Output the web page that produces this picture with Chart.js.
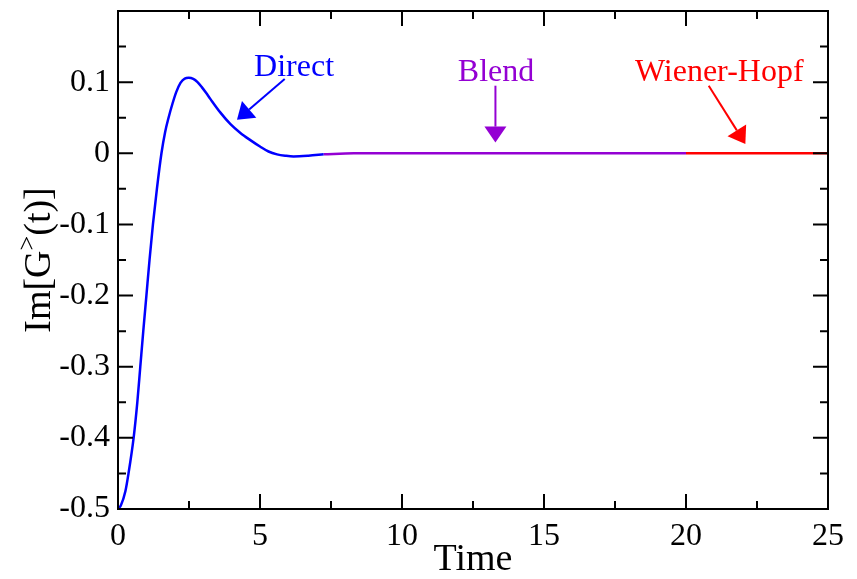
<!DOCTYPE html>
<html>
<head>
<meta charset="utf-8">
<script src="https://cdn.jsdelivr.net/npm/chart.js@4/dist/chart.umd.min.js"></script>
<style>
  html, body { margin: 0; padding: 0; background: #fff; }
</style>
</head>
<body>
<canvas id="chart" width="857" height="579"></canvas>
<script>
// Values
const directTime  = [0, 0.1, 0.26, 0.37, 0.55, 0.68, 0.785, 0.89, 1.0, 1.11, 1.23, 1.37, 1.53, 1.66, 1.78, 1.92, 2.05, 2.2, 2.35, 2.49, 2.65, 2.8, 2.95, 3.1, 3.25, 3.6, 3.96, 4.3, 4.66, 5.0, 5.3, 5.6, 5.9, 6.18, 6.7, 7.24];
const directValue = [-0.5, -0.495, -0.475, -0.45, -0.4, -0.35, -0.3, -0.25, -0.2, -0.15, -0.1, -0.05, 0, 0.03, 0.05, 0.07, 0.086, 0.099, 0.105, 0.106, 0.1045, 0.1, 0.093, 0.085, 0.0765, 0.0575, 0.041, 0.029, 0.0185, 0.0095, 0.0025, -0.0015, -0.0035, -0.0045, -0.0035, -0.0015];
const blendTime   = [7.24, 8.3, 10, 12, 14, 16, 18, 20];
const blendValue  = [-0.0015, 0, 0, 0, 0, 0, 0, 0];
const whTime      = [20, 22.5, 25];
const whValue     = [0, 0, 0];

const xMajorTicks = [0, 5, 10, 15, 20, 25];
const xMinorTicks = [2.5, 7.5, 12.5, 17.5, 22.5];
const yMajorTicks = [-0.5, -0.4, -0.3, -0.2, -0.1, 0, 0.1, 0.2];
const yMinorTicks = [-0.45, -0.35, -0.25, -0.15, -0.05, 0.05, 0.15];

// annotation: label, text anchor (time, value), arrow start, arrow tip
const noteLabels = ['Direct', 'Blend', 'Wiener-Hopf'];
const noteText   = [[6.2, 0.109], [13.31, 0.101], [21.17, 0.101]];
const noteFrom   = [[5.87, 0.1045], [13.29, 0.095], [20.8, 0.095]];
const noteTip    = [[4.19, 0.047], [13.29, 0.015], [22.09, 0.0132]];

const BLUE = '#0000ff';
const VIOLET = '#9400d3';
const RED = '#ff0000';
const noteColors = [BLUE, VIOLET, RED];
const SERIF = "'Liberation Serif', 'Times New Roman', serif";

const toPoints = (ts, vs) => ts.map((t, i) => ({ x: t, y: vs[i] }));

const frameTicks = {
    id: 'frameTicks',
    afterDraw(chart) {
        const { ctx, chartArea: a, scales: { x, y } } = chart;
        ctx.save();
        ctx.strokeStyle = '#000';
        ctx.lineWidth = 2;
        ctx.strokeRect(a.left, a.top, a.right - a.left, a.bottom - a.top);
        ctx.beginPath();
        const xTick = (v, len) => {
            const px = x.getPixelForValue(v);
            ctx.moveTo(px, a.bottom); ctx.lineTo(px, a.bottom - len);
            ctx.moveTo(px, a.top); ctx.lineTo(px, a.top + len);
        };
        const yTick = (v, len) => {
            const py = y.getPixelForValue(v);
            ctx.moveTo(a.left, py); ctx.lineTo(a.left + len, py);
            ctx.moveTo(a.right, py); ctx.lineTo(a.right - len, py);
        };
        xMajorTicks.forEach(v => xTick(v, 15));
        xMinorTicks.forEach(v => xTick(v, 8));
        yMajorTicks.forEach(v => yTick(v, 15));
        yMinorTicks.forEach(v => yTick(v, 8));
        ctx.stroke();
        ctx.restore();
    }
};

const notes = {
    id: 'notes',
    afterDraw(chart) {
        const { ctx, scales: { x, y } } = chart;
        ctx.save();
        noteLabels.forEach((label, i) => {
            const color = noteColors[i];
            ctx.fillStyle = color;
            ctx.strokeStyle = color;
            ctx.font = `32px ${SERIF}`;
            ctx.textAlign = 'center';
            ctx.textBaseline = 'alphabetic';
            ctx.fillText(label, x.getPixelForValue(noteText[i][0]), y.getPixelForValue(noteText[i][1]));

            const x0 = x.getPixelForValue(noteFrom[i][0]), y0 = y.getPixelForValue(noteFrom[i][1]);
            const x1 = x.getPixelForValue(noteTip[i][0]), y1 = y.getPixelForValue(noteTip[i][1]);
            const ang = Math.atan2(y1 - y0, x1 - x0);
            const headLen = 16, headHalf = 11;
            const bx = x1 - headLen * Math.cos(ang), by = y1 - headLen * Math.sin(ang);
            ctx.lineWidth = 2;
            ctx.beginPath();
            ctx.moveTo(x0, y0);
            ctx.lineTo(bx, by);
            ctx.stroke();
            ctx.beginPath();
            ctx.moveTo(x1, y1);
            ctx.lineTo(bx + headHalf * Math.sin(ang), by - headHalf * Math.cos(ang));
            ctx.lineTo(bx - headHalf * Math.sin(ang), by + headHalf * Math.cos(ang));
            ctx.closePath();
            ctx.fill();
        });
        ctx.restore();
    }
};

// y axis title with a superscript ">"
const yTitle = {
    id: 'yTitle',
    afterDraw(chart) {
        const { ctx } = chart;
        const big = `38px ${SERIF}`, small = `26px ${SERIF}`;
        ctx.save();
        ctx.translate(50, 260);
        ctx.rotate(-Math.PI / 2);
        ctx.fillStyle = '#000';
        ctx.textBaseline = 'alphabetic';
        ctx.textAlign = 'left';
        ctx.font = big;
        const w1 = ctx.measureText('Im[G').width;
        const w3 = ctx.measureText('(t)]').width;
        ctx.font = small;
        const w2 = ctx.measureText('>').width;
        let cx = -(w1 + w2 + w3) / 2;
        ctx.font = big;
        ctx.fillText('Im[G', cx, 0);
        cx += w1;
        ctx.font = small;
        ctx.fillText('>', cx, -15);
        cx += w2;
        ctx.font = big;
        ctx.fillText('(t)]', cx, 0);
        ctx.restore();
    }
};

const lineStyle = color => ({
    borderColor: color,
    backgroundColor: color,
    borderWidth: 2.5,
    pointRadius: 0,
    fill: false,
    showLine: true,
    cubicInterpolationMode: 'monotone'
});

new Chart(document.getElementById('chart'), {
    type: 'scatter',
    data: {
        datasets: [
            { label: 'Direct', data: toPoints(directTime, directValue), ...lineStyle(BLUE) },
            { label: 'Blend', data: toPoints(blendTime, blendValue), ...lineStyle(VIOLET) },
            { label: 'Wiener-Hopf', data: toPoints(whTime, whValue), ...lineStyle(RED) }
        ]
    },
    options: {
        responsive: false,
        animation: false,
        layout: { padding: { left: 0, top: 11, right: 29, bottom: 0 } },
        plugins: {
            legend: { display: false },
            tooltip: { enabled: false }
        },
        scales: {
            x: {
                type: 'linear',
                min: 0,
                max: 25,
                grid: { display: false, drawTicks: false },
                border: { display: false },
                ticks: {
                    stepSize: 5,
                    maxRotation: 0,
                    autoSkip: false,
                    padding: 8,
                    color: '#000',
                    font: { family: SERIF, size: 32 }
                },
                title: {
                    display: true,
                    text: 'Time',
                    color: '#000',
                    font: { family: SERIF, size: 38, lineHeight: 1 },
                    padding: { top: 0, bottom: 0 }
                },
                afterFit: s => {
                    s.height = 70;
                    s.paddingLeft = 0;
                    s.paddingRight = 0;
                }
            },
            y: {
                type: 'linear',
                min: -0.5,
                max: 0.2,
                grid: { display: false, drawTicks: false },
                border: { display: false },
                ticks: {
                    stepSize: 0.1,
                    padding: 8,
                    color: '#000',
                    font: { family: SERIF, size: 32 },
                    callback: v => Math.abs(v) < 1e-9 ? '0' : v.toFixed(1)
                },
                afterBuildTicks: s => { s.ticks = s.ticks.filter(t => t.value < 0.15); },
                afterFit: s => {
                    s.width = 118;
                    s.paddingTop = 0;
                    s.paddingBottom = 0;
                }
            }
        }
    },
    plugins: [frameTicks, notes, yTitle]
});
</script>
</body>
</html>
